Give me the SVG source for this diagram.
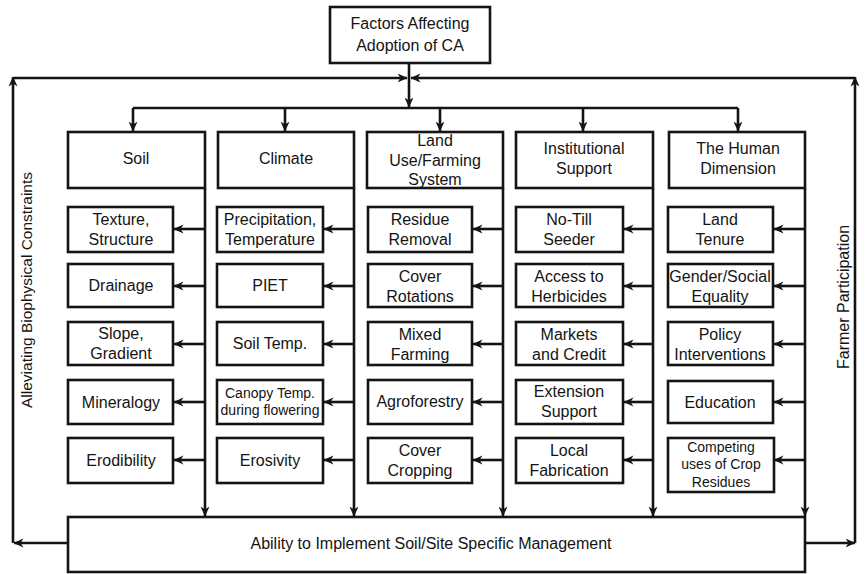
<svg xmlns="http://www.w3.org/2000/svg" width="866" height="574" viewBox="0 0 866 574">
<style>
.b{fill:#fff;stroke:#141414;stroke-width:2.6}
.c{fill:none;stroke:#141414;stroke-width:2.6}
.t{font-family:"Liberation Sans",Arial,sans-serif;font-size:16px;text-anchor:middle;fill:#141414}
.s{font-size:14px}
</style>
<defs>
<marker id="a" viewBox="0 0 10 10" refX="9.5" refY="5" markerWidth="10" markerHeight="10" orient="auto" markerUnits="userSpaceOnUse">
<path d="M0,0.5 L10,5 L0,9.5 L3,5 z" fill="#141414"/>
</marker>
</defs>
<rect width="866" height="574" fill="#fff"/>
<g id="connectors">
<path class="c" d="M409,63 V107" marker-end="url(#a)"/>
<path class="c" d="M13,78 H407" marker-end="url(#a)"/>
<path class="c" d="M855,78 H411" marker-end="url(#a)"/>
<path class="c" d="M68,543 H14" marker-end="url(#a)"/>
<path class="c" d="M13,543 V77" marker-end="url(#a)"/>
<path class="c" d="M805,543 H855" marker-end="url(#a)"/>
<path class="c" d="M855,543 V77" marker-end="url(#a)"/>
<path class="c" d="M133,108 H738"/>
<path class="c" d="M133,108 V131" marker-end="url(#a)"/>
<path class="c" d="M285,108 V131" marker-end="url(#a)"/>
<path class="c" d="M440,108 V131" marker-end="url(#a)"/>
<path class="c" d="M583,108 V131" marker-end="url(#a)"/>
<path class="c" d="M738,108 V131" marker-end="url(#a)"/>
<path class="c" d="M205,188 V516" marker-end="url(#a)"/>
<path class="c" d="M354,188 V516" marker-end="url(#a)"/>
<path class="c" d="M503,188 V516" marker-end="url(#a)"/>
<path class="c" d="M653,188 V516" marker-end="url(#a)"/>
<path class="c" d="M805,188 V516" marker-end="url(#a)"/>
<path class="c" d="M205,229 H174" marker-end="url(#a)"/>
<path class="c" d="M205,286 H174" marker-end="url(#a)"/>
<path class="c" d="M205,344 H174" marker-end="url(#a)"/>
<path class="c" d="M205,402 H174" marker-end="url(#a)"/>
<path class="c" d="M205,460 H174" marker-end="url(#a)"/>
<path class="c" d="M354,229 H324" marker-end="url(#a)"/>
<path class="c" d="M354,286 H324" marker-end="url(#a)"/>
<path class="c" d="M354,344 H324" marker-end="url(#a)"/>
<path class="c" d="M354,402 H324" marker-end="url(#a)"/>
<path class="c" d="M354,460 H324" marker-end="url(#a)"/>
<path class="c" d="M503,229 H473" marker-end="url(#a)"/>
<path class="c" d="M503,286 H473" marker-end="url(#a)"/>
<path class="c" d="M503,344 H473" marker-end="url(#a)"/>
<path class="c" d="M503,402 H473" marker-end="url(#a)"/>
<path class="c" d="M503,460 H473" marker-end="url(#a)"/>
<path class="c" d="M653,229 H624" marker-end="url(#a)"/>
<path class="c" d="M653,286 H624" marker-end="url(#a)"/>
<path class="c" d="M653,344 H624" marker-end="url(#a)"/>
<path class="c" d="M653,402 H624" marker-end="url(#a)"/>
<path class="c" d="M653,460 H624" marker-end="url(#a)"/>
<path class="c" d="M805,229 H774" marker-end="url(#a)"/>
<path class="c" d="M805,286 H774" marker-end="url(#a)"/>
<path class="c" d="M805,344 H774" marker-end="url(#a)"/>
<path class="c" d="M805,402 H774" marker-end="url(#a)"/>
<path class="c" d="M805,460 H774" marker-end="url(#a)"/>
</g>
<g id="top"><rect class="b" x="330" y="7" width="160" height="56"/><text class="t" x="410" y="29">Factors Affecting</text><text class="t" x="410" y="51">Adoption of CA</text></g>
<g id="soil"><rect class="b" x="68" y="132" width="137" height="56"/><text class="t" x="136" y="164">Soil</text></g>
<g id="climate"><rect class="b" x="218" y="132" width="136" height="56"/><text class="t" x="286" y="164">Climate</text></g>
<g id="landuse"><rect class="b" x="367" y="132" width="136" height="56"/><text class="t" x="435" y="146">Land</text><text class="t" x="435" y="166">Use/Farming</text><text class="t" x="435" y="185">System</text></g>
<g id="institutional"><rect class="b" x="516" y="132" width="137" height="56"/><text class="t" x="584" y="154">Institutional</text><text class="t" x="584" y="174">Support</text></g>
<g id="human"><rect class="b" x="669" y="132" width="136" height="56"/><text class="t" x="738" y="154">The Human</text><text class="t" x="738" y="174">Dimension</text></g>

<g id="texture"><rect class="b" x="68" y="207" width="105" height="45"/><text class="t" x="121" y="225">Texture,</text><text class="t" x="121" y="245">Structure</text></g>
<g id="drainage"><rect class="b" x="68" y="264" width="105" height="43"/><text class="t" x="121" y="291">Drainage</text></g>
<g id="slope"><rect class="b" x="68" y="322" width="105" height="43"/><text class="t" x="121" y="339">Slope,</text><text class="t" x="121" y="359">Gradient</text></g>
<g id="mineralogy"><rect class="b" x="68" y="380" width="105" height="44"/><text class="t" x="121" y="408">Mineralogy</text></g>
<g id="erodibility"><rect class="b" x="68" y="438" width="105" height="45"/><text class="t" x="121" y="466">Erodibility</text></g>

<g id="precip"><rect class="b" x="217" y="207" width="106" height="45"/><text class="t" x="270" y="225">Precipitation,</text><text class="t" x="270" y="245">Temperature</text></g>
<g id="piet"><rect class="b" x="217" y="264" width="106" height="43"/><text class="t" x="270" y="291">PIET</text></g>
<g id="soiltemp"><rect class="b" x="217" y="322" width="106" height="43"/><text class="t" x="270" y="349">Soil Temp.</text></g>
<g id="canopy"><rect class="b" x="217" y="380" width="106" height="44"/><text class="t s" x="270" y="398">Canopy Temp.</text><text class="t s" x="270" y="415">during flowering</text></g>
<g id="erosivity"><rect class="b" x="217" y="438" width="106" height="45"/><text class="t" x="270" y="466">Erosivity</text></g>

<g id="residue"><rect class="b" x="368" y="207" width="104" height="45"/><text class="t" x="420" y="225">Residue</text><text class="t" x="420" y="245">Removal</text></g>
<g id="coverrot"><rect class="b" x="368" y="264" width="104" height="43"/><text class="t" x="420" y="282">Cover</text><text class="t" x="420" y="302">Rotations</text></g>
<g id="mixed"><rect class="b" x="368" y="322" width="104" height="43"/><text class="t" x="420" y="340">Mixed</text><text class="t" x="420" y="360">Farming</text></g>
<g id="agro"><rect class="b" x="368" y="380" width="104" height="44"/><text class="t" x="420" y="407">Agroforestry</text></g>
<g id="covercrop"><rect class="b" x="368" y="438" width="104" height="45"/><text class="t" x="420" y="456">Cover</text><text class="t" x="420" y="476">Cropping</text></g>

<g id="notill"><rect class="b" x="516" y="207" width="107" height="45"/><text class="t" x="569" y="225">No-Till</text><text class="t" x="569" y="245">Seeder</text></g>
<g id="herbicides"><rect class="b" x="516" y="264" width="107" height="43"/><text class="t" x="569" y="282">Access to</text><text class="t" x="569" y="302">Herbicides</text></g>
<g id="markets"><rect class="b" x="516" y="322" width="107" height="43"/><text class="t" x="569" y="340">Markets</text><text class="t" x="569" y="360">and Credit</text></g>
<g id="extension"><rect class="b" x="516" y="380" width="107" height="44"/><text class="t" x="569" y="397">Extension</text><text class="t" x="569" y="417">Support</text></g>
<g id="fabrication"><rect class="b" x="516" y="438" width="107" height="45"/><text class="t" x="569" y="456">Local</text><text class="t" x="569" y="476">Fabrication</text></g>

<g id="tenure"><rect class="b" x="668" y="207" width="105" height="45"/><text class="t" x="720" y="225">Land</text><text class="t" x="720" y="245">Tenure</text></g>
<g id="gender"><rect class="b" x="668" y="264" width="105" height="43"/><text class="t" x="720" y="282">Gender/Social</text><text class="t" x="720" y="302">Equality</text></g>
<g id="policy"><rect class="b" x="668" y="322" width="105" height="43"/><text class="t" x="720" y="340">Policy</text><text class="t" x="720" y="360">Interventions</text></g>
<g id="education"><rect class="b" x="668" y="381" width="105" height="42"/><text class="t" x="720" y="408">Education</text></g>
<g id="competing"><rect class="b" x="668" y="438" width="106" height="54"/><text class="t s" x="721" y="452">Competing</text><text class="t s" x="721" y="469">uses of Crop</text><text class="t s" x="721" y="487">Residues</text></g>

<g id="ability"><rect class="b" x="68" y="517" width="737" height="55"/><text class="t" x="431" y="549">Ability to Implement Soil/Site Specific Management</text></g>
<g id="leftlabel"><text class="t" style="font-size:15.5px" transform="translate(32,290) rotate(-90)">Alleviating Biophysical Constraints</text></g>
<g id="rightlabel"><text class="t" transform="translate(849,297) rotate(-90)">Farmer Participation</text></g>
</svg>
